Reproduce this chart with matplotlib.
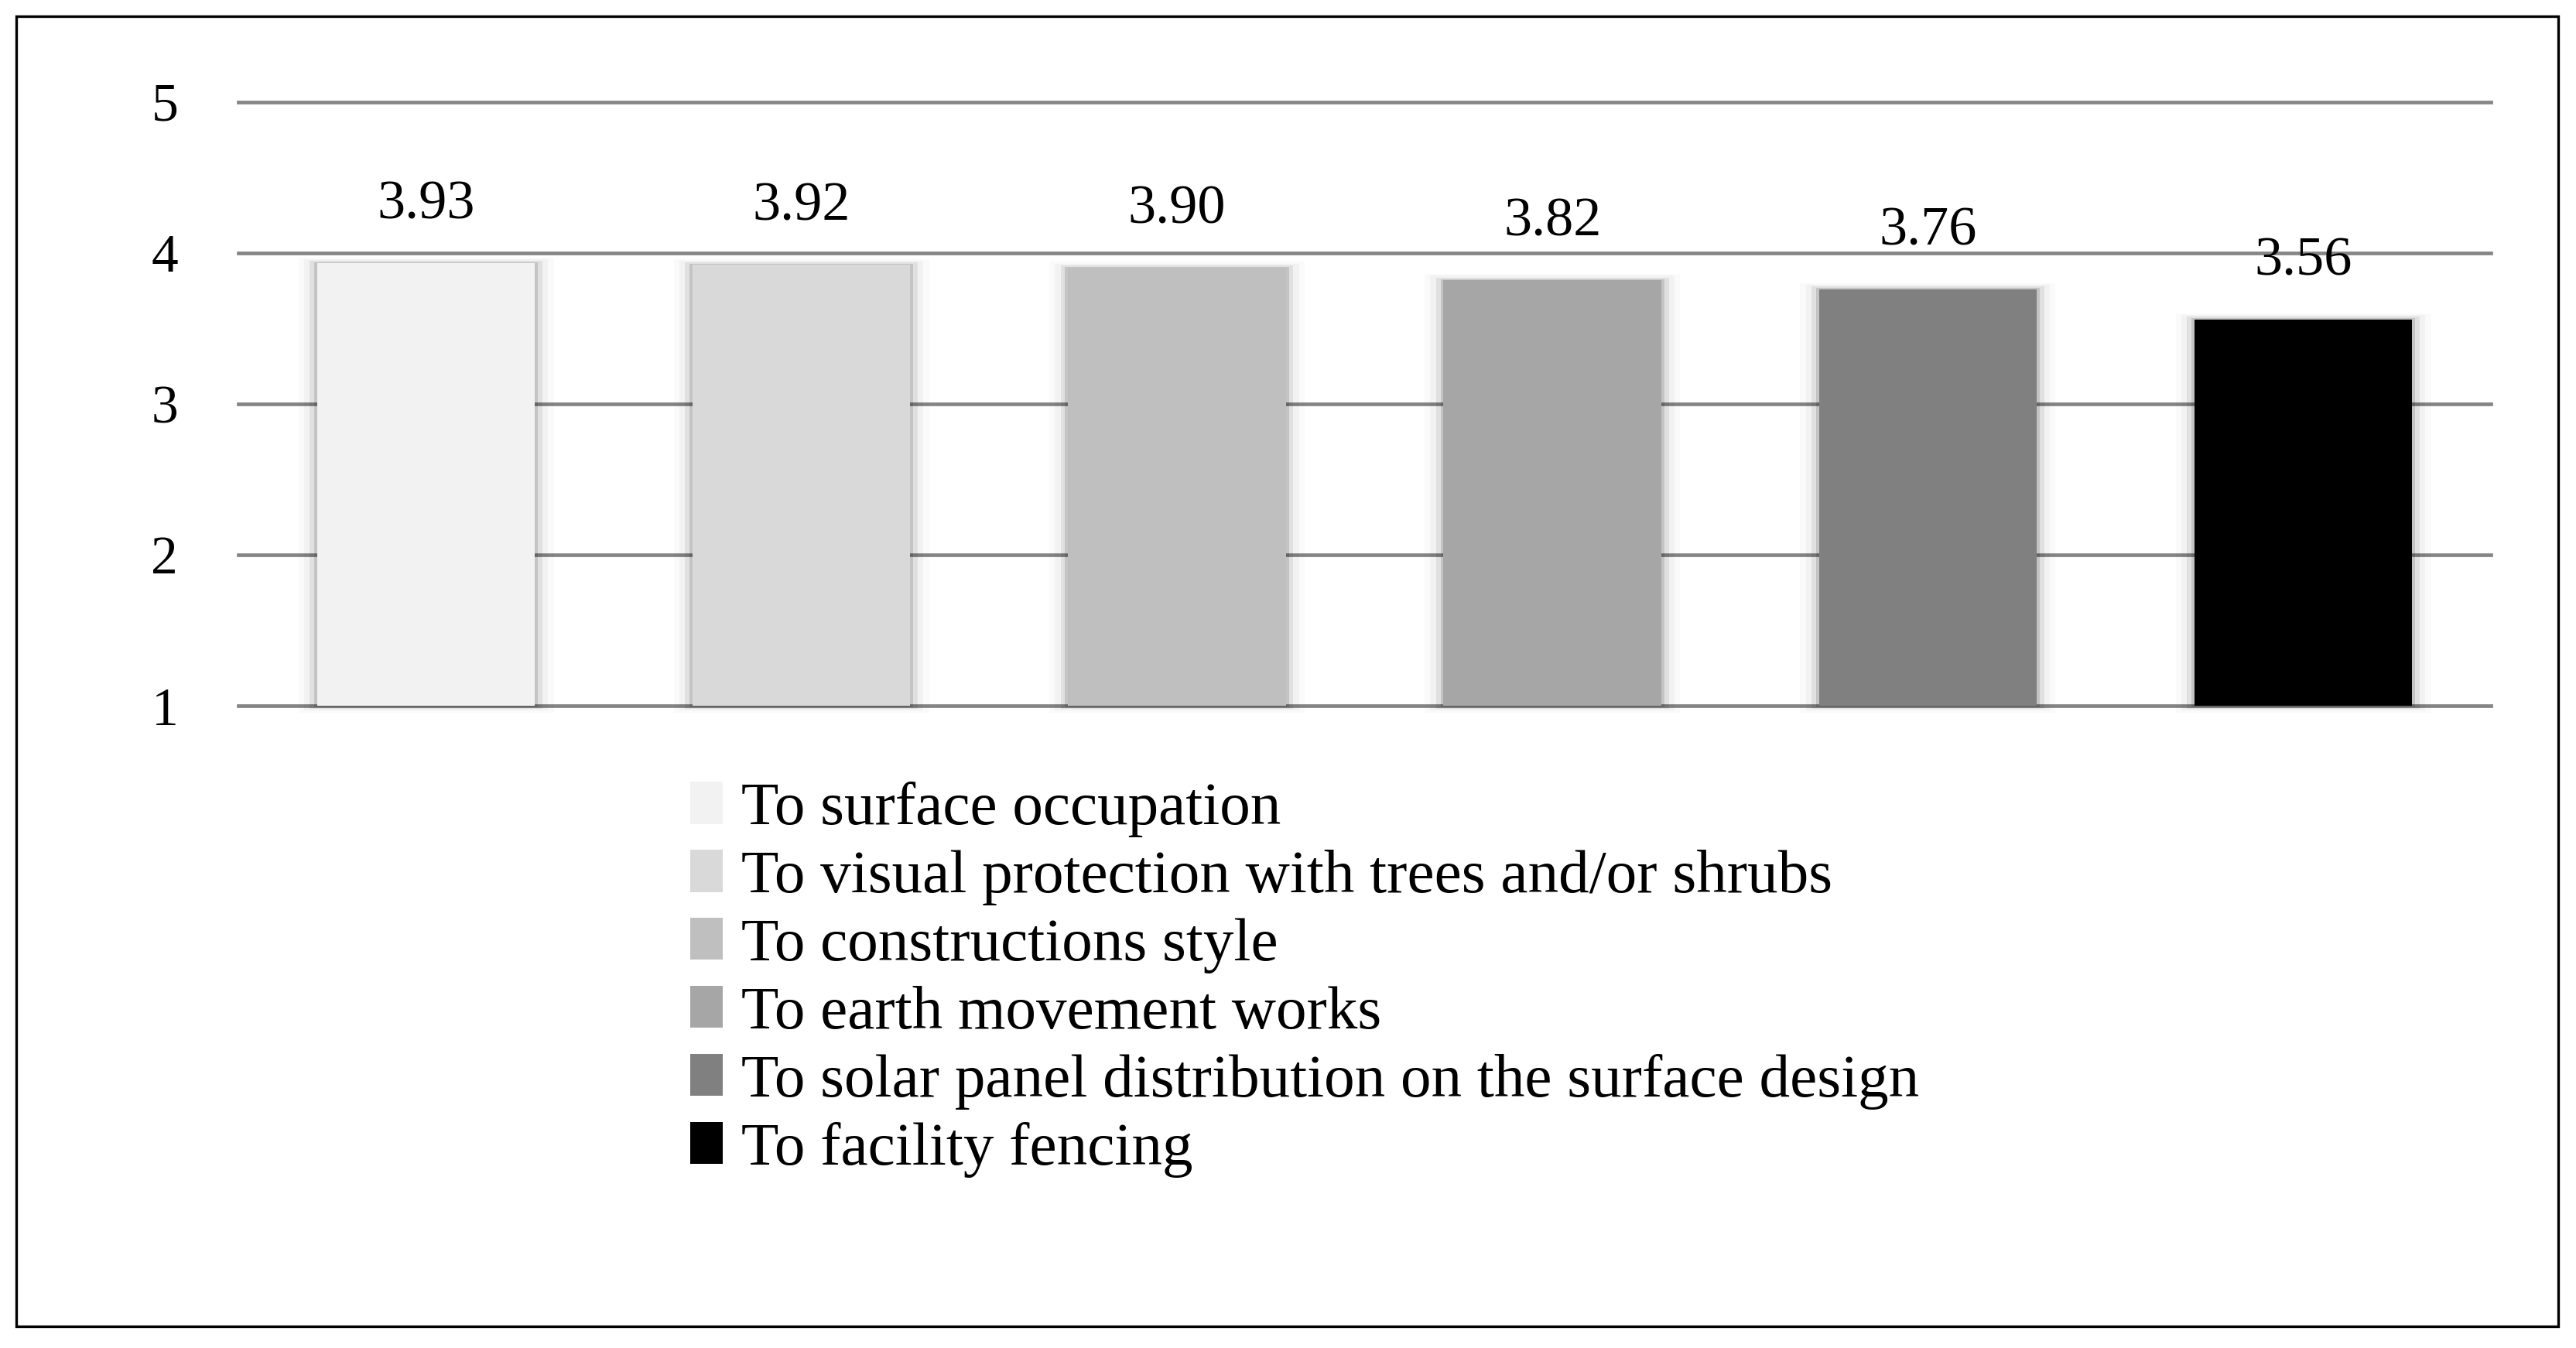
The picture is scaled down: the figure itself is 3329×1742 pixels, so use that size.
import numpy as np
import matplotlib.pyplot as plt
from matplotlib.patches import Rectangle, Patch

# survey scores per aspect
categories = [
    "To surface occupation",
    "To visual protection with trees and/or shrubs",
    "To constructions style",
    "To earth movement works",
    "To solar panel distribution on the surface design",
    "To facility fencing",
]
scores = [3.93, 3.92, 3.90, 3.82, 3.76, 3.56]
bar_colors = ["#f2f2f2", "#d9d9d9", "#bfbfbf", "#a6a6a6", "#808080", "#000000"]
y_ticks = [1, 2, 3, 4, 5]

plt.rcParams["font.family"] = ["Liberation Serif", "DejaVu Serif"]

fig = plt.figure(figsize=(16.645, 8.71), dpi=200)
ax = fig.add_axes([0.0925, 0.4763, 0.8745, 0.4482])

x = np.arange(len(categories))
width = 0.58
base = 1

# soft shadow behind each bar
for i, v in enumerate(scores):
    for d, a in [(0.05, 0.02), (0.035, 0.03), (0.02, 0.07), (0.008, 0.12)]:
        ax.add_patch(Rectangle(
            (x[i] - width / 2 - d, base - d * 0.9),
            width + 2 * d,
            v - base + d * 1.7,
            facecolor="black",
            alpha=a,
            edgecolor="none",
            zorder=2,
            clip_on=False
        ))

ax.bar(
    x,
    [v - base for v in scores],
    bottom=base,
    width=width,
    color=bar_colors,
    zorder=3,
    clip_on=False
)

for i, v in enumerate(scores):
    ax.annotate(
        f"{v:.2f}",
        (x[i], v),
        xytext=(0, 27),
        textcoords="offset points",
        ha="center",
        va="center",
        fontsize=26
    )

ax.set_xlim(-0.5, len(categories) - 0.5)
ax.set_ylim(1, 5)
ax.set_yticks(y_ticks)
ax.set_xticks([])
ax.tick_params(axis="y", length=0, pad=28, labelsize=25)
ax.grid(axis="y", color="#858585", linewidth=1.7, zorder=0)
ax.set_axisbelow(True)
for gl in ax.get_ygridlines():
    gl.set_clip_on(False)
for s in ax.spines.values():
    s.set_visible(False)

handles = [Patch(facecolor=c, edgecolor="none") for c in bar_colors]
fig.legend(
    handles,
    categories,
    loc="upper left",
    bbox_to_anchor=(0.268, 0.42),
    frameon=False,
    fontsize=28.5,
    handlelength=0.53,
    handleheight=0.68,
    handletextpad=0.3,
    labelspacing=0.2,
    borderaxespad=0,
    borderpad=0
)

# outer frame
fig.add_artist(Rectangle(
    (0.0064, 0.0158), 0.9866, 0.972,
    transform=fig.transFigure,
    fill=False,
    edgecolor="black",
    linewidth=1.2
))

fig.savefig("out.png", dpi=200, facecolor="white")
